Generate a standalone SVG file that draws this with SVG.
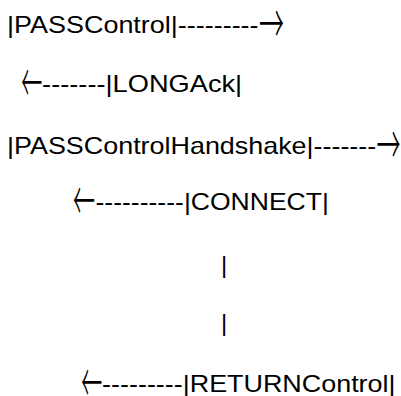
<svg xmlns="http://www.w3.org/2000/svg" width="401" height="396" viewBox="0 0 401 396">
<style>
.t{font-family:"Liberation Sans",Arial,sans-serif;font-size:24px;fill:#000}
.a{font-family:"Noto Sans CJK SC","DejaVu Sans",sans-serif;font-size:36px;font-weight:300;fill:#000}
</style>
<rect width="401" height="396" fill="#fff"/>
<g id="line1">
<text class="t" x="7.05" y="33.3" textLength="251.5" lengthAdjust="spacingAndGlyphs">|PASSControl|---------</text>
<text class="a" transform="translate(259,44.1) scale(1,1.5)" textLength="25" lengthAdjust="spacingAndGlyphs">→</text>
</g>
<g id="line2">
<text class="a" transform="translate(21.3,102.8) scale(1,1.5)" textLength="21" lengthAdjust="spacingAndGlyphs">←</text>
<text class="t" x="42.1" y="92" textLength="200.1" lengthAdjust="spacingAndGlyphs">-------|LONGAck|</text>
</g>
<g id="line3">
<text class="t" x="7.05" y="154" textLength="369.2" lengthAdjust="spacingAndGlyphs">|PASSControlHandshake|-------</text>
<text class="a" transform="translate(376.4,164.8) scale(1,1.5)" textLength="24" lengthAdjust="spacingAndGlyphs">→</text>
</g>
<g id="line4">
<text class="a" transform="translate(72.9,220.8) scale(1,1.5)" textLength="22" lengthAdjust="spacingAndGlyphs">←</text>
<text class="t" x="95.5" y="210" textLength="233.4" lengthAdjust="spacingAndGlyphs">----------|CONNECT|</text>
</g>
<g id="line5">
<text class="t" x="221" y="273.4">|</text>
</g>
<g id="line6">
<text class="t" x="221" y="330.5">|</text>
</g>
<g id="line7">
<text class="a" transform="translate(81.3,402.8) scale(1,1.5)" textLength="21" lengthAdjust="spacingAndGlyphs">←</text>
<text class="t" x="102.1" y="392" textLength="293.4" lengthAdjust="spacingAndGlyphs">---------|RETURNControl|</text>
</g>
</svg>
